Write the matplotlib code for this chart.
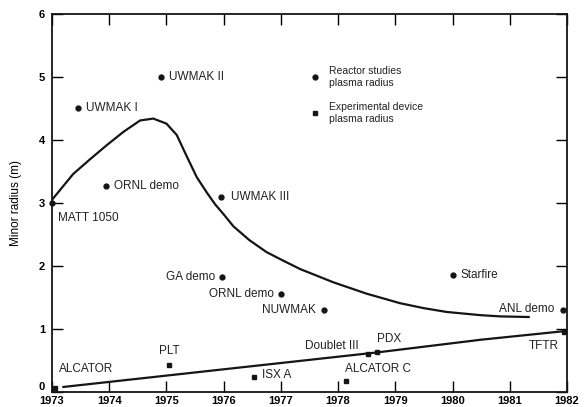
import matplotlib
matplotlib.use("Agg")
import matplotlib.pyplot as plt
from matplotlib.transforms import ScaledTranslation

plt.rcParams["font.family"] = ["Liberation Sans", "DejaVu Sans"]

# reactor studies (circles)
reactor_names = ["UWMAK I", "UWMAK II", "ORNL demo", "MATT 1050", "UWMAK III",
                 "GA demo", "ORNL demo", "NUWMAK", "Starfire", "ANL demo"]
reactor_years = [1973.45, 1974.9, 1973.94, 1973.0, 1975.95,
                 1975.97, 1977.0, 1977.75, 1980.0, 1981.93]
reactor_radius = [4.5, 5.0, 3.27, 3.0, 3.1, 1.82, 1.55, 1.3, 1.85, 1.3]

# experimental devices (squares)
device_names = ["ALCATOR", "PLT", "ISX A", "ALCATOR C", "Doublet III", "PDX", "TFTR"]
device_years = [1973.05, 1975.05, 1976.53, 1978.14, 1978.52, 1978.68, 1981.95]
device_radius = [0.06, 0.43, 0.24, 0.17, 0.6, 0.64, 0.95]

# trend curve through reactor studies
curve_years = [1973.0, 1973.37, 1973.66, 1973.96, 1974.25, 1974.54, 1974.77,
               1975.0, 1975.18, 1975.35, 1975.53, 1975.71, 1975.85, 1976.0,
               1976.17, 1976.45, 1976.75, 1977.05, 1977.34, 1977.92, 1978.5,
               1979.08, 1979.5, 1979.9, 1980.48, 1980.83, 1981.33]
curve_radius = [3.05, 3.46, 3.69, 3.92, 4.13, 4.31, 4.34,
                4.26, 4.08, 3.75, 3.41, 3.16, 2.98, 2.82,
                2.63, 2.41, 2.22, 2.08, 1.95, 1.74, 1.56,
                1.41, 1.33, 1.27, 1.22, 1.2, 1.19]

# trend line through experimental devices
line_years = [1973.2, 1975.0, 1978.7, 1980.5, 1982.0]
line_radius = [0.08, 0.26, 0.63, 0.83, 0.97]

year_ticks = list(range(1973, 1983))

# label offsets in points (dx, dy, ha)
reactor_label_pos = [(6, 0, "left"), (6, 0, "left"), (6, 0, "left"), (4, -11, "left"),
                     (7, 0, "left"), (-5, 0, "right"), (-5, 0, "right"),
                     (-6, 0, "right"), (6, 0, "left"), (-6, 1, "right")]
device_label_pos = [(3, 14, "left"), (0, 10, "center"), (6, 1, "left"), (-1, 9, "left"),
                    (-7, 6, "right"), (0, 9, "left"), (-4, -10, "right")]

fig = plt.figure(figsize=(5.86, 4.07), dpi=100)
ax = fig.add_axes([0.0887, 0.0369, 0.8789, 0.9287])

ink = "#151515"
ax.plot(curve_years, curve_radius, color=ink, lw=1.6)
ax.plot(line_years, line_radius, color=ink, lw=1.6)
h1, = ax.plot(reactor_years, reactor_radius, "o", color=ink, ms=3.5, ls="none",
              clip_on=False)
h2, = ax.plot(device_years, device_radius, "s", color=ink, ms=3.5, ls="none",
              clip_on=False)

fs = 8.5
for name, x, y, (dx, dy, ha) in zip(reactor_names, reactor_years, reactor_radius,
                                    reactor_label_pos):
    ax.annotate(name, (x, y), xytext=(dx, dy), textcoords="offset points",
                ha=ha, va="center", fontsize=fs, color="#222222")
for name, x, y, (dx, dy, ha) in zip(device_names, device_years, device_radius,
                                    device_label_pos):
    ax.annotate(name, (x, y), xytext=(dx, dy), textcoords="offset points",
                ha=ha, va="center", fontsize=fs, color="#222222")

leg = ax.legend([h1, h2], ["Reactor studies\nplasma radius",
                           "Experimental device\nplasma radius"],
                loc="upper left", bbox_to_anchor=(0.503, 0.862), frameon=False,
                fontsize=7.5, handletextpad=0.9, labelspacing=1.4,
                handlelength=0.8, borderaxespad=0, borderpad=0)
for t in leg.get_texts():
    t.set_color("#222222")

ax.set_xlim(1973, 1982)
ax.set_ylim(0, 6)
ax.set_xticks(year_ticks)
ax.set_xticklabels([str(y) for y in year_ticks], fontsize=8, fontweight="bold")
ax.set_yticks(range(0, 7))
ax.set_yticklabels([str(v) for v in range(0, 7)], fontsize=8, fontweight="bold")
ax.tick_params(direction="in", length=8, width=1.0, top=True, right=True)
ax.tick_params(axis="x", pad=3)
ax.tick_params(axis="y", pad=5)
# lift the "0" a little so it sits clear of "1973"
zero = ax.get_yticklabels()[0]
zero.set_transform(zero.get_transform() + ScaledTranslation(0, 4 / 72, fig.dpi_scale_trans))
for s in ax.spines.values():
    s.set_linewidth(1.3)
    s.set_color(ink)
ax.set_ylabel("Minor radius (m)", fontsize=8.5)
ax.yaxis.set_label_coords(-0.058, 0.50)

fig.savefig("out.png", dpi=100)
